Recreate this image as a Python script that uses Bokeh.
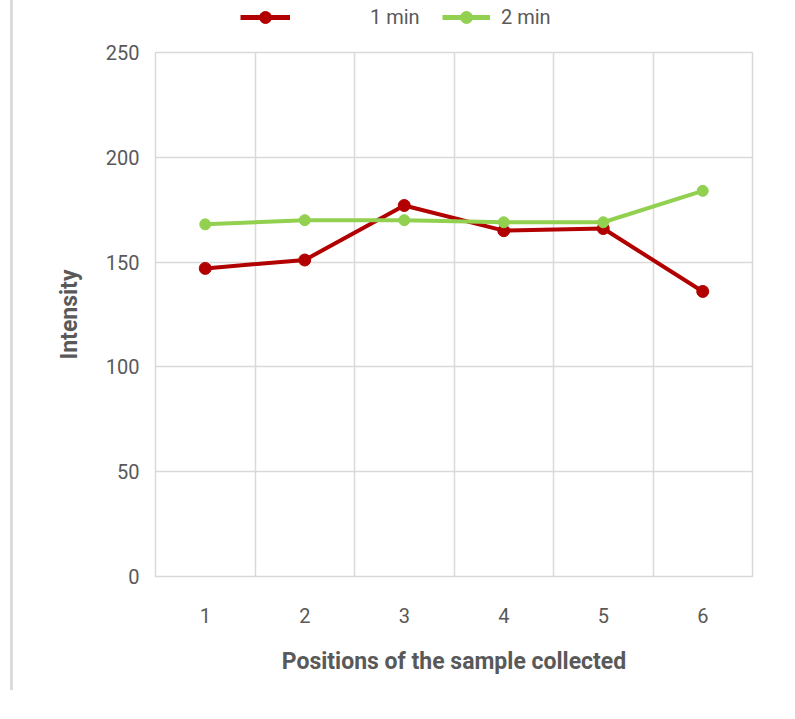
from bokeh.plotting import figure
from bokeh.layouts import column
from bokeh.models import ColumnDataSource, FixedTicker, Legend, LegendItem, Range1d
from bokeh.embed import file_html
from bokeh.resources import INLINE

positions = [1, 2, 3, 4, 5, 6]
position_labels = ["1", "2", "3", "4", "5", "6"]
one_min = [147, 151, 177, 165, 166, 136]
two_min = [168, 170, 170, 169, 169, 184]
y_ticks = [0, 50, 100, 150, 200, 250]
series_labels = ["1 min", "2 min"]

FONT = "Roboto"
GRAY = "#595959"
GRID = "#d9d9d9"
RED = "#b20000"
GREEN = "#92d050"

src = ColumnDataSource(dict(x=positions, a=one_min, b=two_min))

# ---- main chart ----
p = figure(output_backend="svg", toolbar_location=None,
           frame_width=597, frame_height=524,
           min_border_left=142, min_border_right=30,
           min_border_top=12, min_border_bottom=114,
           x_range=Range1d(0.5, 6.5), y_range=Range1d(0, 250))

p.outline_line_color = GRID
p.outline_line_width = 1.5
p.xgrid.ticker = FixedTicker(ticks=[x + 0.5 for x in positions[:-1]])
p.ygrid.ticker = FixedTicker(ticks=y_ticks)
for g in (p.xgrid, p.ygrid):
    g.grid_line_color = GRID
    g.grid_line_width = 1.5

p.xaxis.ticker = FixedTicker(ticks=positions)
p.xaxis.major_label_overrides = {x: l for x, l in zip(positions, position_labels)}
p.yaxis.ticker = FixedTicker(ticks=y_ticks)
for ax in (p.xaxis, p.yaxis):
    ax.axis_line_color = None
    ax.major_tick_line_color = None
    ax.minor_tick_line_color = None
    ax.major_label_text_font = FONT
    ax.major_label_text_font_size = "20px"
    ax.major_label_text_color = GRAY
    ax.axis_label_text_font = FONT
    ax.axis_label_text_font_size = "23px"
    ax.axis_label_text_font_style = "bold"
    ax.axis_label_text_color = GRAY
p.xaxis.major_label_standoff = 25
p.yaxis.major_label_standoff = 10
p.xaxis.axis_label = "Positions of the sample collected"
p.yaxis.axis_label = "Intensity"
p.xaxis.axis_label_standoff = 22
p.yaxis.axis_label_standoff = 20

p.line("x", "a", source=src, line_color=RED, line_width=4)
p.scatter("x", "a", source=src, size=12, fill_color=RED, line_color=RED)
p.line("x", "b", source=src, line_color=GREEN, line_width=4)
p.scatter("x", "b", source=src, size=11, fill_color=GREEN, line_color=GREEN)

# ---- legend strip above the chart ----
lg = figure(output_backend="svg", toolbar_location=None,
            width=p.frame_width + 142 + 30, height=40,
            min_border_left=0, min_border_right=0, min_border_top=0, min_border_bottom=0,
            x_range=Range1d(100, 101), y_range=Range1d(1000, 1001),
            x_axis_type=None, y_axis_type=None)
lg.outline_line_color = None
lg.grid.visible = False
r1 = [lg.line("x", "a", source=src, line_color=RED, line_width=5),
      lg.scatter("x", "a", source=src, size=13, fill_color=RED, line_color=RED)]
r2 = [lg.line("x", "b", source=src, line_color=GREEN, line_width=5),
      lg.scatter("x", "b", source=src, size=13, fill_color=GREEN, line_color=GREEN)]

leg1 = Legend(items=[LegendItem(label=series_labels[0], renderers=r1)],
              location=(85, 8), orientation="horizontal",
              glyph_width=50, label_standoff=80)
leg2 = Legend(items=[LegendItem(label=series_labels[1], renderers=r2)],
              location=(287, 8), orientation="horizontal",
              glyph_width=48, label_standoff=11)
for L in (leg1, leg2):
    L.border_line_color = None
    L.background_fill_alpha = 0
    L.padding = 0
    L.margin = 0
    L.glyph_height = 30
    L.label_height = 30
    L.label_text_font = FONT
    L.label_text_font_size = "20px"
    L.label_text_color = GRAY
    lg.add_layout(L, "center")

layout = column(lg, p, spacing=0)
layout.styles = {"border-left": "3px solid #dcdcdc", "margin-left": "10px"}

open("out.html", "w").write(file_html(layout, INLINE))
